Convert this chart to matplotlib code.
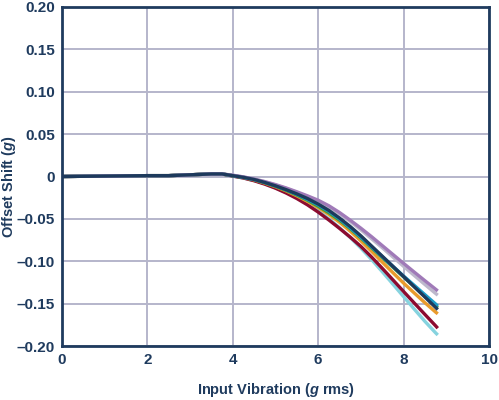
import matplotlib
matplotlib.use('Agg')
import matplotlib.pyplot as plt

# data (offset shift in g vs input vibration in g rms)
x = [0, 1, 2, 2.5, 3, 3.5, 3.75,
     4.0, 4.25, 4.5, 4.75, 5.0, 5.25, 5.5, 5.75, 6.0, 6.25, 6.5, 6.75,
     7.0, 7.25, 7.5, 7.75, 8.0, 8.25, 8.5, 8.75, 8.8]
flat = [0, 0.0005, 0.001, 0.001, 0.002, 0.003, 0.003]

purple = flat + [0.0015, -0.0005, -0.003, -0.006, -0.0095, -0.0135, -0.018, -0.0228, -0.028, -0.0345,
                 -0.0425, -0.0515, -0.061, -0.071, -0.0815, -0.092, -0.1025, -0.1128, -0.123, -0.133, -0.135]
grey = flat + [0.0015, -0.0005, -0.003, -0.0062, -0.010, -0.014, -0.0188, -0.024, -0.0295, -0.036,
               -0.044, -0.053, -0.063, -0.0735, -0.084, -0.095, -0.106, -0.1168, -0.1275, -0.138, -0.140]
teal = flat + [0.001, -0.001, -0.0035, -0.007, -0.011, -0.0157, -0.021, -0.027, -0.0335, -0.041,
               -0.050, -0.0605, -0.0715, -0.083, -0.0945, -0.106, -0.1175, -0.1285, -0.1395, -0.1505, -0.153]
green = flat + [0.001, -0.001, -0.0037, -0.0073, -0.0115, -0.0163, -0.0218, -0.028, -0.035, -0.0428,
                -0.0515, -0.0615, -0.0725, -0.084, -0.0955, -0.107, -0.1185, -0.130, -0.1415, -0.1528, -0.155]
navy = flat + [0.001, -0.001, -0.0035, -0.007, -0.011, -0.0155, -0.0205, -0.026, -0.0325, -0.040,
               -0.049, -0.059, -0.070, -0.082, -0.094, -0.106, -0.118, -0.1302, -0.1423, -0.1545, -0.157]
orange = flat + [0.001, -0.0012, -0.004, -0.0078, -0.012, -0.017, -0.0228, -0.0293, -0.0365, -0.0447,
                 -0.054, -0.0645, -0.076, -0.0883, -0.101, -0.1135, -0.1258, -0.1375, -0.149, -0.160, -0.162]
darkred = flat + [0.0005, -0.0018, -0.005, -0.009, -0.0138, -0.0195, -0.026, -0.0335, -0.042, -0.0513,
                  -0.0612, -0.0715, -0.0825, -0.095, -0.1083, -0.122, -0.1357, -0.1493, -0.1628, -0.1762, -0.179]
cyan = flat + [0.0005, -0.0016, -0.0047, -0.0086, -0.0133, -0.0188, -0.025, -0.0322, -0.0405, -0.050,
               -0.0605, -0.072, -0.0845, -0.098, -0.1123, -0.127, -0.1418, -0.1565, -0.171, -0.1845, -0.187]

series = [
    (cyan, '#86d3df'),
    (darkred, '#8c0b30'),
    (orange, '#e99b2d'),
    (green, '#3f9c3c'),
    (teal, '#1b9cc8'),
    (grey, '#bdb8cc'),
    (purple, '#a07ab8'),
    (navy, '#1d3a5c'),
]

xticks = [0, 2, 4, 6, 8, 10]
yticks = [0.20, 0.15, 0.10, 0.05, 0, -0.05, -0.10, -0.15, -0.20]
ylabels = ['0.20', '0.15', '0.10', '0.05', '0', '–0.05', '–0.10', '–0.15', '–0.20']

dark = '#1f3b5e'
plt.rcParams['font.family'] = ['Liberation Sans', 'DejaVu Sans']
plt.rcParams['mathtext.fontset'] = 'custom'
plt.rcParams['mathtext.it'] = 'Liberation Sans:italic:bold'
plt.rcParams['mathtext.rm'] = 'Liberation Sans:bold'

fig = plt.figure(figsize=(4.99, 4.0), dpi=100)
ax = fig.add_axes([0.124, 0.135, 0.856, 0.8475])

for ys, c in series:
    ax.plot(x, ys, color=c, lw=2.4, solid_capstyle='butt', solid_joinstyle='round')

ax.set_xlim(0, 10)
ax.set_ylim(-0.20, 0.20)
ax.set_xticks(xticks)
ax.set_yticks(yticks)
ax.set_yticklabels(ylabels)
ax.grid(True, color='#b5b5cb', lw=1.4)
ax.set_axisbelow(True)
ax.tick_params(length=0, pad=5, labelsize=11, labelcolor=dark)
for lab in ax.get_xticklabels() + ax.get_yticklabels():
    lab.set_fontweight('bold')
for s in ax.spines.values():
    s.set_color(dark)
    s.set_linewidth(2)

ax.set_xlabel('Input Vibration ($g$ rms)', fontsize=10.5, fontweight='bold', color=dark)
ax.set_ylabel('Offset Shift ($g$)', fontsize=10.5, fontweight='bold', color=dark)
ax.xaxis.label.set_va('center')
ax.yaxis.label.set_va('center')
ax.xaxis.set_label_coords(0.501, -0.13)
ax.yaxis.set_label_coords(-0.124, 0.47)

fig.savefig('out.png', dpi=100)
